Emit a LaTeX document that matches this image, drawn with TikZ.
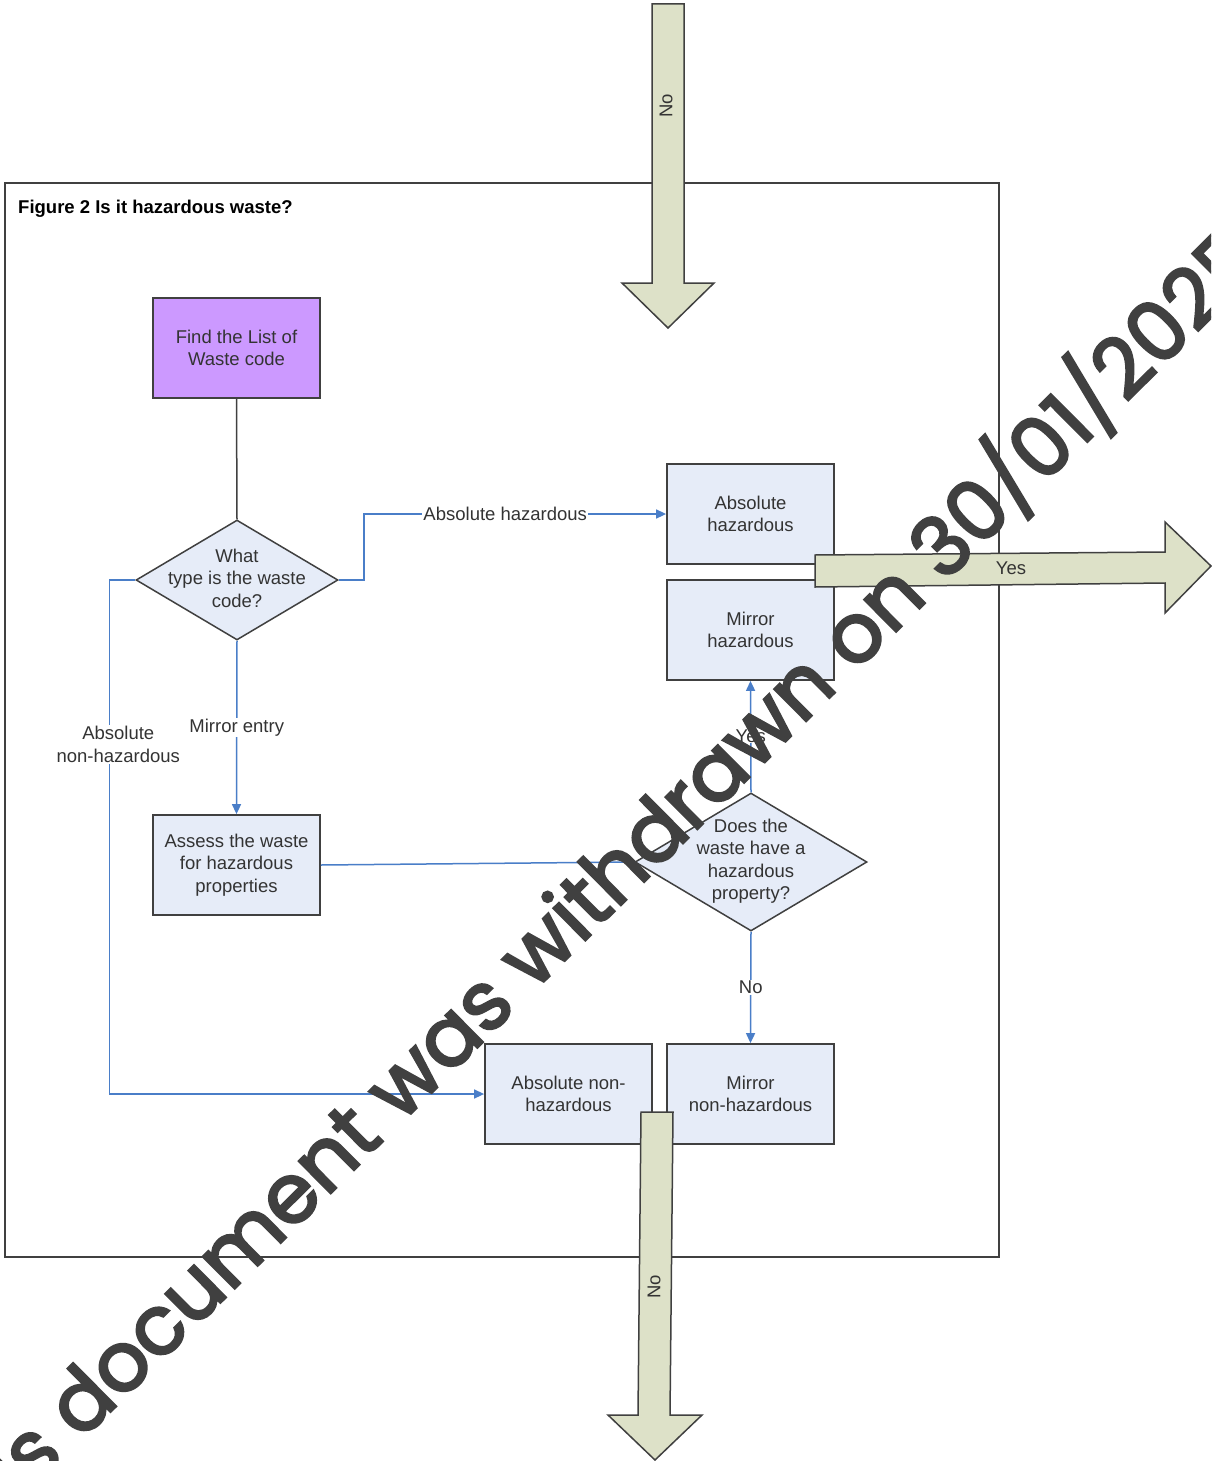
\documentclass[tikz,border=0pt]{standalone}
\usepackage{fontspec}
\setmainfont{Liberation Sans}
\newfontfamily\wmfont{Poppins}[FakeBold=3]
\usetikzlibrary{shapes.geometric,arrows.meta}
\definecolor{boxfill}{HTML}{E6ECF8}
\definecolor{purplefill}{HTML}{CC99FF}
\definecolor{arrowfill}{HTML}{DDE1C8}
\definecolor{conblue}{HTML}{4A7EC8}
\definecolor{edgecol}{HTML}{404040}
\definecolor{txt}{HTML}{333333}
\definecolor{wmcol}{HTML}{404040}
\tikzset{
  every node/.style={font=\fontsize{18.5}{22.5}\selectfont, text=txt},
  box/.style={draw=edgecol, line width=1.8pt, fill=boxfill, minimum width=167pt, minimum height=100pt, inner sep=0pt, align=center},
  dec/.style={diamond, draw=edgecol, line width=1.5pt, fill=boxfill, inner sep=0pt},
  con/.style={draw=conblue, line width=1.5pt},
  conarr/.style={con, -{Triangle[length=10pt,width=9pt]}},
  lbl/.style={fill=white, inner sep=1pt, align=center},
  bigarrow/.style={draw=edgecol, line width=1.5pt, fill=arrowfill, line join=miter},
}
\begin{document}
\begin{tikzpicture}[x=1pt,y=-1pt]
\useasboundingbox (0,0) rectangle (1211,1461);
\fill[white] (0,0) rectangle (1211,1461);
% frame
\draw[draw=edgecol, line width=1.5pt] (5,183) rectangle (999,1257);
\node[anchor=west, inner sep=0pt, text=black, font=\bfseries\fontsize{18.5}{22}\selectfont] (title) at (18,209) {Figure 2 Is it hazardous waste?};

% nodes
\node[box, fill=purplefill] (find) at (236.5,348) {Find the List of\\Waste code};
\node[dec, minimum width=202pt, minimum height=120pt] (d1) at (237,580) {};
\node[align=center] (d1t) at (237,578) {What\\type is the waste\\code?};
\node[box] (absH) at (750.5,514) {Absolute\\hazardous};
\node[box] (mirH) at (750.5,630) {Mirror\\hazardous};
\node[box] (assess) at (236.5,865) {Assess the waste\\for hazardous\\properties};
\node[dec, minimum width=232pt, minimum height=138pt] (d2) at (751,862) {};
\node[align=center] (d2t) at (751,861) {Does the\\waste have a\\hazardous\\property?};
\node[box] (absNH) at (568.5,1094) {Absolute non-\\hazardous};
\node[box] (mirNH) at (750.5,1094) {Mirror\\non-hazardous};

% connectors
\draw[draw=edgecol, line width=1.5pt] (find.south) -- (d1.north);
\draw[conarr] (d1.east) -- ++(25,0) |- node[lbl, pos=0.734] (lAH) {Absolute hazardous} (absH.west);
\draw[conarr] (d1.west) -- ++(-26,0) |- node[lbl, pos=0.16, xshift=9pt] (lANH) {Absolute\\non-hazardous} (absNH.west);
\draw[conarr] (d1.south) -- node[lbl] (lME) {Mirror entry} (assess.north);
\draw[con] (assess.east) -- (d2.west);
\draw[conarr] (d2.north) -- node[lbl, inner sep=0pt] (lY) {Yes} (mirH.south);
\draw[conarr] (d2.south) -- node[lbl] (lN) {No} (mirNH.north);

% big arrows
\draw[bigarrow] (652,4) -- (684,4) -- (684,283) -- (714,283) -- (668,328) -- (622,283) -- (652,283) -- cycle;
\node[rotate=90] (noTop) at (666,106) {No};
\draw[bigarrow] (815,555) -- (1165,552) -- (1165,522) -- (1211,566) -- (1165,613) -- (1165,583) -- (815,587) -- cycle;
\node (yesR) at (1011,568) {Yes};
\draw[bigarrow] (641,1112) -- (673,1112) -- (670,1415) -- (702,1415) -- (655,1460) -- (608,1415) -- (638,1415) -- cycle;
\node[rotate=90] (noBot) at (654,1287) {No};

% watermark
\begin{scope}
\clip (0,0) rectangle (1211,1461);
\node[font=\wmfont\fontsize{82}{82}\selectfont, text=wmcol, rotate=44.8, anchor=base west, inner sep=0pt] (wmk) at (81,1441) {\llap{This }document was withdrawn on 30/01/2025};
\end{scope}
\end{tikzpicture}
\end{document}
